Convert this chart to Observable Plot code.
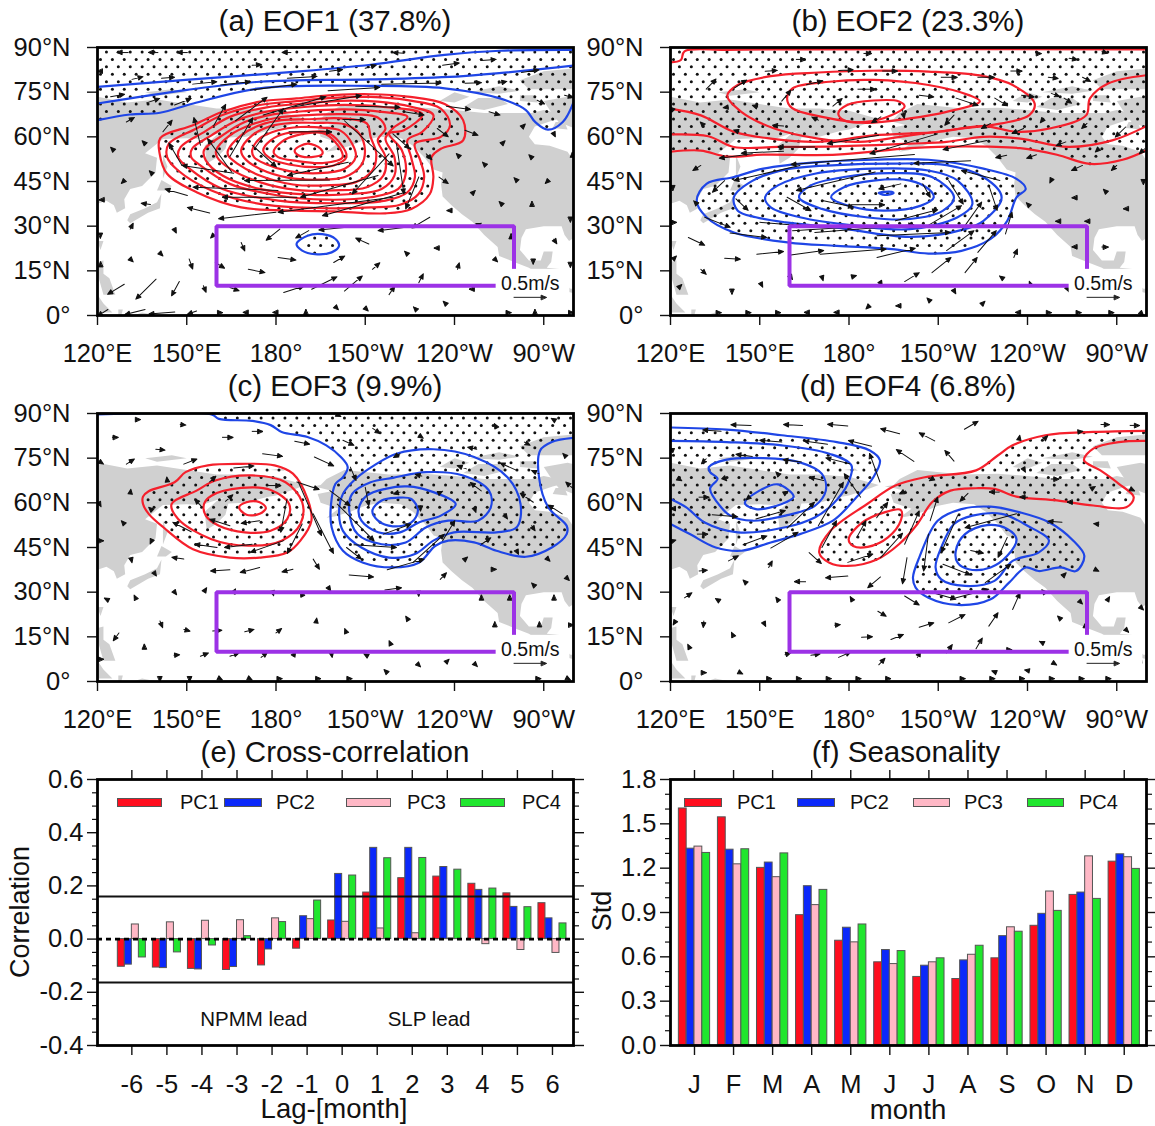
<!DOCTYPE html>
<html><head><meta charset="utf-8">
<script src="https://cdn.jsdelivr.net/npm/d3@7"></script>
<script src="https://cdn.jsdelivr.net/npm/@observablehq/plot@0.6"></script>
<style>
html,body{margin:0;padding:0;background:#fff}
#page{position:relative;width:1155px;height:1126px;overflow:hidden;font-family:"Liberation Sans",Arial,sans-serif;color:#111}
.panel{position:absolute;width:596px}
.panel svg{overflow:visible;background:transparent}
.t{position:absolute;white-space:nowrap;transform:translate(-50%,-50%);line-height:1.1}
.sw{position:absolute;height:7px;border:1px solid #555}
</style></head><body><div id="page"></div>
<script>
// ---------- shared tick labels ----------
const lonTicks=[120,150,180,210,240,270];
const lonLabels=["120°E","150°E","180°","150°W","120°W","90°W"];
const latTicks=[0,15,30,45,60,75,90];
const latLabels=["0°","15°N","30°N","45°N","60°N","75°N","90°N"];
const titles=["(a) EOF1 (37.8%)","(b) EOF2 (23.3%)","(c) EOF3 (9.9%)","(d) EOF4 (6.8%)","(e) Cross-correlation","(f) Seasonality"];

// ---------- land outlines (lon east, lat) ----------
const landAsia=[[120,73.5],[130,71.5],[140,72.5],[150,71],[160,69.5],[170,69.5],[180,68.8],[190,66],[186,64.5],[180,62.5],[177,62],[170,60],[164,59.8],[163,56],[160,53],[156.7,51],[156,57],[160,60.5],[163,62],[155,59.3],[150,59.5],[142,59.3],[136,54.5],[140,53],[139.5,48],[135,43.5],[131,42.5],[129,39],[129.3,36],[126.5,34.5],[125.5,37],[123,38.5],[120,37.5]];
const landAmerica=[[192,65.5],[195,66],[197,68],[203,71],[218,69.5],[230,69.8],[240,69],[250,68],[262,68],[266,68],[270,69],[275,68],[278,69.5],[279,67],[273,65.5],[267,63.5],[265,60],[267,57.5],[272,57],[278,55],[280,52],[280,26],[278.5,25],[277,27],[276,30],[270,30],[264,29],[262.5,26],[262,22],[265,18.5],[269,18.5],[270,21.5],[273,21.5],[272.5,18],[271,16],[276,15.5],[276.5,11],[279,9],[280,9],[280,7.5],[278,8],[275,10],[272,12],[268,14],[265,16],[260,18],[255,20],[254.5,23],[250,27],[246,31.5],[242.5,34],[239,37],[236,40],[235.5,44],[236,48],[233,49],[230,53],[226,57],[222,59.5],[215,60],[210,59],[205,57],[200,55.5],[197,55],[201,58],[198,59],[195,60],[194,63],[199,64],[195,65]];
const landIslands=[
 [[130,32],[131,34],[136,36],[140,38],[141.5,41],[141,36],[137,34.5],[131,31]],
 [[140,42],[141.5,45.5],[145,43.5],[143,42]],
 [[142,46],[142,54],[143.5,50]],
 [[120,18],[122,18.5],[122,14],[124,12.5],[126,7],[122,7],[120,14]],
 [[120,25],[122,25],[121,22]],
 [[120,7],[120,1],[125,1],[122,4]],
 [[127,2],[128.5,2],[128,0],[127,0]],
 [[132,0],[135,1],[140,0]],
 [[235,72],[240,71.5],[245,73.5],[240,75]],
 [[243,70],[250,69],[258,71],[255,73],[248,73]],
 [[245,75],[255,74.5],[262,75.5],[255,77]],
 [[262,72],[268,71.5],[267,74],[262,74]],
 [[278,73.5],[280,73],[280,63],[275,65],[272,69],[270,72]],
 [[265,76],[280,76],[280,83],[270,82],[262,79]],
 [[273,63],[278,62.5],[277,65],[274,65]],
 [[178,71],[182,71.5],[183,70.8]],
 [[136,75],[145,76],[150,75],[140,73.8]]
];

// ---------- target box of the NPMM region ----------
const boxLine=[[260,15.5],[260,30],[160,30],[160,10],[254,10]];
const keyArrow=[[260,6.1,10.8,0]];
const keyMask=[[254,280,3.2,15.5]];

// ---------- (a) contours ----------
const aRed=[
 [[141.1,59.6],[152.1,63.9],[162,68.4],[174.5,71.8],[186.9,72.9],[199.4,74],[211.8,74.3],[224.2,73.5],[236.7,71],[242.9,65.6],[242.9,58.8],[235.4,56],[232.3,53.2],[232.9,46.5],[231.7,40.8],[225.5,35.8],[216.8,34.3],[199.4,35],[186.9,35.2],[168.3,36.3],[153.3,41.4],[143.4,47.6],[140.9,54.3]],
 [[144,57.7],[153.3,62.8],[162,67.3],[174.5,70.7],[186.9,72],[199.4,73.1],[211.8,73.4],[224.2,72.3],[235.4,69.5],[238.5,63.9],[235.4,60],[226.7,57.7],[228.5,52.1],[229.8,46.5],[227.9,40.8],[221.7,37.2],[211.8,36.3],[193.1,36.1],[174.5,37.5],[158.3,42],[147.1,48.7],[143.4,53.2]],
 [[148,56.6],[155.8,61.6],[164.5,66.7],[176.9,69.9],[189.4,71.2],[201.8,72.1],[214.2,71.8],[225.4,70.1],[232.9,67.3],[229.2,61.7],[224.2,58.9],[225.4,53.2],[226.7,46.5],[224.2,41.4],[216.8,38.6],[199.4,37.7],[180.7,38.6],[162,42.5],[150.9,49.3],[147.1,53.2]],
 [[151.8,56],[158.3,60.5],[167,65.6],[178.2,68.7],[190.6,70.1],[203.1,70.7],[215.5,70.1],[229.2,67.6],[223,62.2],[218,61.1],[222.3,55.5],[223.6,47.6],[221.1,42.5],[211.8,39.7],[196.8,38.9],[180.7,40.3],[164.5,44.2],[154.6,50.4],[151.5,53.2]],
 [[155.8,55.5],[162,60.5],[169.5,65],[179.4,67.6],[190.6,68.7],[203.1,69.2],[215.5,68.4],[224.2,66.7],[219.2,62.8],[216.8,59.4],[219.8,53.2],[219.8,47],[215.5,42.5],[205.6,40.8],[190.6,40.6],[174.5,42.5],[162,47],[156.4,52.1]],
 [[159.9,55.5],[164.5,60.5],[172,64.2],[180.7,66.5],[190.6,67.3],[203.1,67.6],[214.2,66.5],[216.8,62.8],[214.2,58.9],[216.8,53.2],[216.1,47],[210.5,43.1],[199.4,42],[186.9,42.2],[174.5,44.8],[164.5,49.3],[160.2,53.2]],
 [[163.9,55.5],[168.3,60.5],[174.5,63.9],[181.9,65.6],[190.6,65.9],[201.8,66.2],[210.5,64.5],[211.8,60],[213.7,54.3],[212.4,48.7],[206.8,44.8],[196.8,43.7],[185.7,44],[174.5,47],[167,51],[163.9,53.8]],
 [[168.3,55.5],[172,60.5],[178.2,63.6],[185.7,64.7],[193.1,64.7],[203.1,64.2],[208,61.1],[209.9,55.5],[208.6,50.4],[203.1,46.5],[194.4,45.6],[184.4,46.2],[174.5,49.3],[169.5,52.7]],
 [[172,55.5],[174.5,59.4],[180.7,62.2],[188.1,63.3],[195.6,63.1],[201.8,62],[205.6,57.7],[206.8,53.2],[203.1,49.3],[194.4,47.8],[184.4,48.5],[176.3,51],[172.6,53.2]],
 [[175.7,55.5],[178.2,58.8],[183.2,61.1],[190.6,61.6],[196.8,61.6],[201.2,58.3],[203.7,53.2],[199.4,50.4],[193.1,49.8],[184.4,50.7],[178.2,52.7]],
 [[179.2,54.9],[181.9,58.3],[186.9,60.5],[196.8,60.9],[202.4,53.2],[195.6,51.2],[186.9,51.9],[180.7,53.2]],
 [[186.3,55.5],[190.6,57.7],[195,56],[195.6,54.3],[191.9,53.2],[187.5,53.8]]
];
const aBlueOpen=[
 [[120,76.8],[149.6,79.1],[186.9,81.9],[211.8,84.2],[236.7,87.5],[255.3,88.9],[280,89.2]],
 [[120,71.2],[149.6,75.7],[174.5,78.5],[211.8,79.3],[242.9,80.4],[280,83.9]],
 [[120,65.6],[130.9,67.5],[141,68.1],[152.2,71.2],[174.5,76.3],[211.8,77.1],[236.7,76.3],[255.3,72.9],[264,69],[267.1,65],[271.4,62.4],[276.4,65],[280,71.6]]
];
const aBlueClosed=[[[186.9,24],[190.6,26.8],[195.6,27.3],[200,25.7],[201.2,23.4],[198.7,21.2],[193.1,20.6],[188.8,21.8]]];
const aStipple=[[...aBlueOpen[2],[280,90],[120,90]],aRed[0],aBlueClosed[0]];
// [lon, lat, dLon, dLat]
const aVectors=[[130.3,88.3,-3.7,0],[140.3,88.3,-3.1,0],[150.2,88.3,-3.4,0],[185,88.3,-2.9,0],[223,88.1,-3.7,.2],[249,85.6,5,.4],[236,84,5.6,.8],[210,83,3.7,1.1],[172,84,3.1,.3],[198,82,4.4,.6],[262.5,81.6,5.9,.9],[131.6,79.3,3.7,.9],[141.5,79.7,4.4,.3],[183.8,79.7,10,.6],[152,77.7,8.1,.8],[161.4,77.4,10,1.1],[243.5,78,5.6,.2],[215.5,77.7,20,.4],[254.7,78,2.9,.6],[124.4,73.5,4.7,.8],[136.5,71.4,4.4,1.5],[145.9,70.7,5.6,2.2],[171.4,75.7,15.6,2],[197.5,75.5,17.4,1.1],[277,74,2.9,-.8],[267.8,72.3,2.5,-1.3],[129.7,65,2.7,1.5],[142,61.7,3.1,3.9],[159,63.6,4.1,7.3],[154.6,57.2,-2.2,9.3],[164.5,53.4,7.7,13],[173.2,56.6,9.3,12.9],[166.4,65.4,10.6,7.9],[175.7,67.3,21.1,6.2],[185.7,70,23,3.9],[202.5,65.8,7.5,0],[223,68.4,6.8,-1.1],[206.8,70.3,14.9,-.4],[237.3,70.3,8.1,-1.1],[251.6,68.4,3.7,-1.1],[243.5,62.2,4.4,-1.7],[234.2,62.8,3.7,-2.8],[184.4,61.7,14.3,0],[203,65.4,16.4,-15.2],[219.3,61,5.6,-5],[220.5,57.7,2.5,-16.9],[218,54.3,-12.4,-13.5],[228,46.5,-4.4,-10.7],[230.5,54.3,1.9,-2],[172,57.2,8.1,-7.3],[165.1,48.2,-8.1,11.2],[148.4,50.4,-4.4,7.5],[198,45.5,-28.6,-.2],[204.3,51.5,-20.5,-4.5],[214.3,47,-26.1,-7.3],[219.3,39.7,-38.6,-5],[165.8,47.8,-17.4,2.6],[180.7,42,-28.6,1.1],[187,39.7,-25,0],[223.6,41.4,-28,-7.9],[180,34.7,-19.3,-2.2],[157.7,34.4,-7.5,1.9],[150.2,40.3,-7.5,2.2],[137.8,37.3,-3.1,.4],[234.8,46.5,3.1,-2.2],[231.7,33,-6,-3.6],[223.6,29.6,-9.3,-1.1],[203.7,29.6,-9.3,-.9],[191,28.5,-4.4,-2.5],[181.3,29,-4.6,-3.7],[168.3,24.5,1.2,-2.8],[211.2,24,-4.4,2],[180.7,19.5,6,-.9],[170.7,15.5,5.6,-1.1],[192,8.8,8.5,4.2],[203,8.2,6,5.1],[182.6,7.7,6.8,2.2],[199.4,17.8,3.7,2.2],[212.4,15.5,2.5,2.2],[228,11,1.5,3],[241,15.5,.6,2.2],[218,7,1.9,2.8],[150.8,19,1.2,-3.4],[159.6,17.8,3.1,-1.9],[129,10.5,-5.6,-3.4],[139.7,12.2,-6.8,-6.7],[147.5,11.4,-2.6,-4.8],[155.6,10,.9,-2.2],[164.5,9.4,3.1,-1.1],[123.5,2,-3.5,-2.2],[136,2,-6.8,-1.7],[146,1.2,-8.7,-.7],[153.3,1.5,-3.1,-1.1],
[125.4,55.5,-1,1],[136,57.7,-1,1],[138.4,47.6,-1,1],[129,45.3,-1,-1],[121.6,38.8,-1,0],[131,29,1,2],[146,28.7,.5,-1],[121,27,0,-1],[159,27,-1,-1],[141,21,1,-1],[131,19,1,-1],[121,17,0,1],[256,57.7,1,1],[266,53,-1,1],[262.8,63.3,1,1],[273.4,61,.5,-1],[250.4,50.5,-1,1],[241.6,53.4,-1,1],[261,45.3,-1,1],[271.5,45.3,-1,-1],[246,41,1,1],[256,37.3,-1,1],[266,37.3,0,1],[238.5,35.2,-1,0],[248,30.5,1,.5],[259,26.4,0,1],[279,32.4,0,-1],[279.6,53.8,0,1],[224.2,20.6,-1,1],[234.2,22.6,-1,0],[253.5,19,1,-1],[266.5,18.3,0,-1],[273.4,25.6,1,-1.5],[279,17.2,0,-1],[246,8.8,-1,0],[200.5,2.4,.5,-.5],[210.5,2,.5,-.5],[226.7,2.4,-.5,.5],[236.7,4.3,-.5,.5],[161,1,1,0],[170,1,-1,0],[180,1,-1,0],[190,1,0,1],[258,1,1,0],[267,1,0,1],[279,1,1,0],[121,82,-1,0]];

// ---------- (b) contours ----------
const bRedOpen=[
 [[120,85],[123.5,85.8],[124.7,88.7],[138.9,89.2],[163.6,89.4],[280,89.4]],
 [[120,69.5],[130.2,67.2],[141.3,61.7],[153.7,59.4],[169.7,58.3],[188.2,60.5],[210.4,61.7],[225.2,63.6],[236.3,61.7],[247.4,62.8],[259.7,67.2],[261,72.9],[267.1,77.9],[280,80.7]],
 [[120,60.8],[132.7,60.2],[141.3,56.6],[156.1,56.6],[175.9,56.8],[200.5,57.7],[212.8,58.3],[225.2,60],[237.5,59.4],[253.7,56.6],[268.5,58.8],[280,63.6]],
 [[120,55],[130.2,55.4],[138.9,53.4],[151.2,54],[175.9,54],[200.5,56.2],[219,56.8],[237.5,56.2],[249.9,54],[261,50.9],[272,52.3],[280,55.5]]
];
const bRedClosed=[
 [[139.1,73.8],[142.6,77.4],[153.7,80.4],[169.7,81.6],[188.2,82.2],[206.7,81.9],[225.2,80.4],[235,77.4],[242.4,71.2],[240.6,67.3],[231.3,64.5],[217.8,62.8],[200.5,60.5],[183.3,58.3],[169.7,59.4],[154.9,62.8],[143.8,68.4]],
 [[159.2,72.9],[161,76.3],[173.4,78.5],[188.2,79.1],[206.7,77.4],[220.3,74],[224,71.9],[212.8,68.4],[200.5,66.2],[185.7,64.7],[171,66.7],[160.8,69.7]],
 [[176.4,67.9],[179.4,70.7],[188.2,72.2],[196.8,71.9],[198.7,70.2],[194.4,67.3],[185.7,65],[178.3,65.6]]
];
const bBlue=[
 [[128.8,38.6],[132.1,44.2],[141.3,46.5],[151.2,49.3],[169.7,51.5],[188.2,52.3],[206.7,52.3],[225.2,49.3],[236.3,45.9],[239.4,42.5],[236.3,39.7],[233.2,31.8],[227.6,25.7],[217.8,21.7],[206.7,20.8],[194.4,22.3],[175.9,23.4],[159.8,24.5],[141.3,27.9],[132.1,33]],
 [[141.3,39.7],[147.5,45.2],[158.6,49],[175.9,50.5],[194.4,51],[212.8,50.5],[225.2,46.5],[231.3,39.7],[225.2,31.8],[219,29],[200.5,26.4],[175.9,29.5],[158.6,31.3],[148.7,33],[142.6,35.2]],
 [[151.8,39.7],[156.1,43.7],[168.5,47.6],[188.2,49.3],[206.7,48.7],[216.5,45.3],[221.5,37.5],[216.5,33],[200.5,29],[182,30.2],[163.5,33],[153.7,36.3]],
 [[163.2,39.7],[167.2,43.7],[178.3,46.5],[194.4,47.8],[207.9,46.5],[215.3,39.7],[211.6,35.2],[200.5,32.4],[185.7,33],[170.9,35.8]],
 [[174,39.7],[178.3,43.1],[188.2,45.3],[200.5,45.3],[206.7,42.5],[208.5,39.7],[204.2,36.9],[191.9,35.2],[180.8,36.6]],
 [[190,41.2],[194.4,41.5],[195,41.1],[191.9,40.5]]
];
const bStipple=[[...bRedOpen[3],[280,90],[120,90]],bBlue[0]];
const bVectors=[[162.3,86,3.1,0],[185,88,2.5,0],[243,88,1.6,0],[265,88.6,1.9,-.5],[254,86.4,2.8,-.5],[151.8,82,4.1,.3],[176.5,82.3,4.9,.2],[191.3,82.1,4.9,0],[234.4,82.1,3.7,0],[211,80,5.3,0],[223.3,80,5.5,0],[247,80,3.3,-.4],[258.5,80,2.7,-1.4],[132,76,3.3,3.4],[141.3,76.3,4.3,2.8],[165.7,77.5,5.4,1.3],[157.4,72,3.1,3.7],[183,76,5.9,0],[203.6,74,4.9,-.6],[238,74,4.3,-.6],[248,74.6,2.8,-1.1],[252.3,73,2.5,-1.7],[216,73,7.4,-2.5],[229,73,4.3,-2.6],[174.6,70.3,3.1,2.6],[198,69,.6,-2.8],[190.7,66.7,-3.1,-2],[169.7,65.6,-2.2,1.1],[149.3,70,-1.8,.6],[139.5,70,-1.8,-.2],[131,64,-1,1],[158,63.6,-3.7,.3],[143,61.7,-1.8,.6],[215.3,67.3,-3.1,-3.4],[227.6,64.5,-3.1,-1.7],[238.7,62.8,-3.9,-1.7],[260,64.5,-1.8,-1.7],[273,63.3,-3.5,-3.4],[245.5,66.2,-1.2,-1.5],[190,60.5,-17.3,-2.8],[209.8,61,-22.8,-6.7],[226.4,58.8,-14.8,-3.1],[252.9,58.3,-3.3,-1.3],[264,56,-1.2,-1.1],[279.4,56,-1.8,-1.7],[168.5,56.6,-12.3,0],[158,55.2,-14.2,-.7],[147.5,54.3,-11.1,-1.5],[202,54.1,-41.5,-3.4],[233,53.8,-3.7,-.8],[243,54,-3.3,-1.2],[258.5,50.4,-3.7,-1.7],[270,50.4,-1.8,-1.7],[130.2,50.4,-2.7,-1.7],[220.9,52,-19.1,-.9],[230.7,45.3,-12.9,3.4],[188.8,48.2,-26.5,-6.2],[163.5,50.4,-22.2,-5.1],[138.2,45.3,-4.1,-3.9],[197.4,44.2,-7.4,-1.7],[142,39.2,4.1,-3.9],[159.2,39.7,8,-4.5],[171,38.6,10.5,-2.2],[180.8,37.2,11.1,0],[204.8,44.2,2.5,-4.5],[213.5,45.3,4.9,-7.9],[227,43.7,2.8,-8.4],[232.6,27.4,2.2,7.3],[217.8,28.5,6.8,9.6],[205.5,29.6,12.3,7.3],[195.6,31.8,14.2,3.7],[150,31.3,14.2,-1.2],[131.5,33,8.6,-3.4],[140,27.7,12.3,-1.5],[161,28.5,20.3,1.2],[168.5,27.9,33.3,2.6],[189.4,26.8,24.7,1.1],[212.8,21.8,9.2,6.7],[223.3,21.2,6.2,7.3],[189.4,19.5,12.9,3.1],[160.4,20.3,11.1,1.5],[170.3,20.6,22.2,1.7],[149,20.6,9,.9],[126,26.2,5.5,-2.6],[138.2,19.2,5.3,-.3],[130.2,15.5,1.8,-1.7],[207.9,14.4,6.4,5.1],[219,14.4,4.1,5.1],[198.7,11.4,4.9,3],[235.4,19.5,1.2,2.8],[265,23,2.1,0],
[160.6,12.7,.4,-.6],[171,12.7,.3,-1],[181,13,1.5,.4],[190.6,11,.6,-1],[215.5,8,.4,-.7],[231.4,12.7,-.8,.6],[241,10.5,-.4,1],[253.5,8.8,.4,-.8],[250.5,31.6,-1,0],[260.3,31.6,-1,0],[240.6,36.9,-1,1],[273.3,35.8,-1,0],[256,23,-1,0],[266.5,41.4,-1,1],[279,45,0,-1],[248,45.5,-.5,-1],[256,39.5,-1,0],[150.5,10.5,.5,-1],[140.7,8.2,0,-1],[122.8,9.4,1,1],[121,19,1,1],[121,31.3,1,0],[128.8,37.5,-1,1],[120.8,43,0,-1],[120.8,69,-1,1],[136,1,1,0],[146,1,1,0],[156,1,1,0],[166,1,-1,0],[176,1,-1,0],[237,1,-1,0],[247,1,1,0],[257,1,1,0],[268,1,1,0],[278,1,1,-1],[186.7,3.2,-1,-1],[196.8,3.2,-1,0],[206.7,5.4,-.5,.5],[225.2,4.3,.5,.5]];

// ---------- (c) contours ----------
const cBlueOpen=[[[120,89.7],[158.3,89.7],[160.8,88.2],[172,87.5],[178.2,86.1],[181.9,83.8],[190.6,82.1],[196.9,79.3],[201.8,75.4],[204.1,72],[202.5,68.6],[200,66.4],[198.5,59.6],[198.7,51.8],[202.5,43.9],[209.3,39.9],[219.3,38.3],[228,39.9],[233.6,45.6],[237.9,47.3],[246.6,46.7],[254.1,43.9],[264,41.9],[272.7,45],[277.7,49.5],[277.7,52.3],[271.5,58.5],[268.4,68.6],[268.8,77.6],[272.7,80.4],[280,81.8]]];
const cBlueClosed=[
 [[212.4,57.4],[215.5,60.8],[220.5,61.7],[225.5,61.3],[227.7,57.4],[225.5,53.4],[219.3,52.1],[214.3,54]],
 [[207.8,57.9],[210.5,62.4],[216.8,64.7],[224.2,65.5],[232.9,63.6],[240.4,59.6],[235.4,55.7],[228,53.4],[221.7,50.1],[214.3,50.1],[208.7,54]],
 [[204.6,57.4],[205.6,63],[211.8,66.9],[219.3,68.4],[230.5,70.3],[242.9,69.2],[251.6,64.1],[252.2,58.5],[247.9,54],[237.9,54],[230.5,51.8],[223.6,46.7],[215.5,46.1],[207.4,49.5]],
 [[201.2,56.3],[202.5,63],[206.8,68.1],[213,72.6],[220.5,76.5],[232.9,78],[246.6,75.4],[257.8,68.6],[262.2,59.6],[260.9,51.8],[254.1,50.1],[239.8,50.1],[232.9,47.3],[226.7,42.8],[218,41.6],[208.7,45],[202.5,50.6]]
];
const cRed=[
 [[135.3,62.1],[137.2,63.9],[145.9,66.9],[149.6,70.3],[157.1,72.6],[168.3,73.1],[179.5,72.6],[185.7,69.8],[190.6,61.3],[191.9,54],[188.2,47.3],[183.8,43.3],[174.5,41.6],[164.5,41.6],[152.1,44.4],[142.1,51.8],[137.2,56.3],[135.3,59.6]],
 [[144.9,59.6],[153.3,64.1],[159.6,67.5],[172,69.2],[183.2,66.9],[188.8,60.2],[188.2,52.9],[181.9,47.3],[170.7,45.6],[158.3,47.8],[147.1,54.6]],
 [[155.8,59.6],[158.3,62.4],[168.3,65],[178.2,64.3],[184.4,59.6],[183.8,54.6],[178.2,50.6],[169.5,50.1],[160.8,52.3],[156.4,55.7]],
 [[167.6,58.5],[170.1,60.2],[174.5,60.2],[176.6,58.3],[174.5,56.3],[170.1,56]]
];
const cStipple=[[...cBlueOpen[0].slice(1),[280,90],[158,90]],cRed[0]];
const cVectors=[[132.8,88,1.6,0],[147.8,86.3,1.9,-.2],[125,82,1.9,0],[162,82,3.5,0],[172,84,3.5,0],[186.3,80.7,5,-1],[139.6,78,3.1,-.3],[175.5,76.5,6.7,-.9],[129.7,73,2.7,1.7],[149,73,4.4,1.7],[192.9,75.4,6.5,-3],[120.5,74,1.5,-1],[165.8,71.7,6.8,.7],[200.8,89.5,1,-.5],[212.5,85,2.5,-1.7],[228,82.7,1.5,-1],[254,85.5,-.6,1.1],[273.5,87.8,-1,.6],[202.5,81,3.7,-1.7],[263.5,80.4,1.9,-1.1],[247.5,78,-3.1,.7],[277,76,-.6,.6],[221.7,76.5,-2.2,-1.3],[260.9,70.9,-5.6,2.5],[244,71.4,-3.1,1.1],[229,69,-2.2,.6],[205,72,1.9,-4.5],[249,64,-3.7,2.8],[268.4,69.8,-2.5,1.1],[279.6,65,-2.2,2],[266.5,60.2,-4.4,3],[276.2,56.3,-4.7,3],[187,67,7.5,-2.5],[177,65.8,4.6,0],[157.7,67,2.1,1.9],[143.5,67,-.2,1.7],[131,63,.2,1.6],[120.7,59.6,.5,-.9],[138.4,57.4,-1.2,1.1],[163,60.5,2.5,2.2],[155.2,58.5,-2.5,2.8],[210,65.2,1.2,-6.2],[198.1,64.1,6.8,-5.1],[200.6,59.6,12.4,-12.4],[221.7,63.6,-2.2,-.6],[235.4,63.6,.6,.3],[228.6,59,0,-1.7],[246.6,58.5,.6,-1.7],[256.6,56.3,1.2,-1.7],[265.9,52.3,1.2,-1.7],[129,52.9,-1,1.1],[151.5,50.3,-6.2,3.2],[164.5,52.3,-6.8,2.2],[174.5,54,-6.2,-.9],[183.7,61.3,-2.1,-11.2],[187.5,67,7.8,-18],[192.5,56.3,6.8,-13.3],[188.8,52.9,-5,-9.9],[182.6,47.3,-11.2,-3.9],[172,46.1,-9.3,-1.1],[160.2,45,-7.5,1.1],[121,47.3,1,0],[138.2,47.3,-.5,-1.1],[149,41.1,-4,.6],[164.5,37.5,-6.5,-.4],[174.5,38.3,-6.5,-1.7],[185.7,37.7,-3.7,-.9],[192.5,41.1,2.1,-3.4],[131.2,41.6,.4,-1.7],[206.2,45.9,14.3,-.9],[203.7,45,5,-3.9],[216.1,49.5,9.3,3.4],[217.4,37.5,12.4,3.6],[226,39.9,10.6,9.6],[236,47.3,4.1,6.7],[249.1,46.1,3.1,2.2],[261,43.7,.5,-1],[243.5,41,.9,.8],[271.5,41,.6,-.6],[235.2,34.3,2.1,2.2],[253,37.7,1,0],[204.6,35.8,8.2,-.7],[216.6,30.7,5.6,.8],[139.4,36,.4,-.6],[266.5,32.5,-.6,.6],[278,34.5,.6,-.6],[146,29.9,.6,-.8],[156,30.4,.7,1.1],[165.8,30,.6,1.1],[179,29.5,.2,-.7],[188.8,29,-.6,1.1],[198,31,.4,-.6],[228,30,0,-1.3],[249,28,0,1],[258.5,28,0,1],[273.4,28,0,1],[132.8,28,-.5,1],[123.3,27.5,-1,.5],[141,20.3,.9,-2.2],[149,17.5,2.1,-.6],[158.7,17,3.1,.2],[169.5,16.7,3.1,.8],[180,16.3,1.9,1.5],[203.7,16.3,-.6,1.5],[193.5,20,.2,1.3],[224.2,21,-.6,.9],[253.5,19,0,1],[268.5,19,0,1],[279,19,1,0],[127.2,16.3,-1.9,-2.6],[218.6,12.4,-.6,1.3],[135.7,11.5,0,1],[145.7,8.8,1.9,.2],[154.6,8.5,2.7,1.1],[164.5,8.5,3.1,1.1],[175,8.1,2.1,1.7],[185.7,8.5,.9,1.5],[198.7,9.2,.2,-1.1],[211,8.5,-1.5,.8],[228,5.5,.6,-.6],[237.7,7,.5,.5],[247.2,5.5,.5,-.5],[216.8,3.5,-.5,.5],[141,1,0,-1],[151,1,0,-1],[161,1,1,-.5],[171,1,1,-.5],[181,1,1,0],[194,1,1,0],[204.5,1,1,0],[268,1,1,0],[278,1,1,-.5],[121,7.5,1,0]];

// ---------- (d) contours ----------
const dBlueOpen=[
 [[120,85.3],[138.9,84.6],[157.4,82.7],[175.9,80.4],[187,77.6],[190.4,74.3],[188.2,68.6],[182,61.3],[174.6,54],[163.5,49.5],[153.7,46.7],[143.8,43.9],[135.2,45],[126.5,49.5],[120,52.9]],
 [[120,80.8],[138.9,80.4],[157.4,79.3],[173.4,76.5],[180.8,72.6],[179.6,66.4],[174.6,59.6],[168.5,55.1],[158.6,51.8],[142.6,50.1],[131.5,53.4],[125.3,58.5],[120,61.3]]
];
const dBlueClosed=[
 [[132.9,72],[138.9,74.5],[151.2,75],[163.5,73.6],[170.9,69.7],[172.2,64.1],[168.5,59],[158.6,55.7],[147.5,54],[140.1,55.7],[137,58.5],[133.3,64.7],[135.8,68.1],[133.3,70.3]],
 [[145,59.9],[149.9,64.1],[156.1,66.2],[161.4,62.1],[157.4,59.6],[148.7,57.9]],
 [[201.5,34.9],[203.6,41.6],[209.8,54],[217.8,57.9],[227.6,58.7],[237.5,56.8],[247.4,53.4],[255.4,47.3],[259.1,42.2],[256.3,37.1],[251.1,38.3],[243.7,37.1],[239.4,38.3],[233.8,33.2],[227.6,27.6],[216.5,25.7],[206.7,28.1],[202.4,31.5]],
 [[209.1,38.3],[211,45],[215.3,52.9],[221.5,55.7],[231.3,56.3],[240,52.3],[247.2,47.3],[243.7,43.3],[235,40.5],[228.9,33.8],[219,32.1],[211,34.3]],
 [[215.9,43.9],[219,49.5],[226.4,52.5],[233.2,51.2],[236.3,47.8],[233.2,42.2],[227.6,38.3],[220.2,37.7],[216.5,39.9]]
];
const dRedOpen=[[[280,84.2],[262.1,83.8],[246,82.7],[235,79.3],[230,75.9],[222.7,70.9],[205.5,68.6],[195.6,65.8],[186.1,59.6],[173.8,50.6],[170,43.3],[173.4,39.9],[179.6,38.8],[189.4,41],[196.8,46.1],[203,52.9],[207.9,60.2],[214.1,64.1],[222.7,64.9],[228.9,64.7],[236.3,62.1],[249.9,60.8],[262.1,59.1],[273.2,58.5],[275.7,61.9],[270.7,66.4],[264.5,70.9],[259,74.3],[262.1,78.2],[270.7,80.4],[280,80.8]]];
const dRedClosed=[[[179.9,47.8],[184.5,53.4],[191.9,56.8],[197.4,57.6],[197.4,54],[193.1,48.4],[186.3,45.2],[181.4,45.5]]];
const dStipple=[dBlueOpen[0],dBlueClosed[2],dRedOpen[0]];
const dVectors=[[147.1,86,-6.8,.2],[164.4,86,-6.4,.3],[179.6,85.8,-6.8,.6],[197,83.2,-6.4,1.7],[208.8,80.8,-5.2,2.7],[218.8,84.7,4.6,2.7],[237.2,81.6,.2,1.1],[245.2,81,1.6,1.5],[257,83.8,1.6,.2],[264.7,86.3,2.8,0],[274.5,86,3.1,0],[137,84,-6.2,.5],[157.4,80.4,-7.4,.6],[172.8,79.7,-8,1.1],[187.6,79,-7.8,1.9],[201.8,73.9,-5.9,4],[215.3,74,-3.1,3.6],[121,77.6,-1.5,.6],[132,74.8,-1.6,-1.7],[147.5,75.6,-5.5,.7],[164,73.7,-6.2,.8],[180.2,73.1,-8,2],[190.4,67,-3.5,9.6],[183.9,61.9,-5.5,7.9],[171.5,67.5,-4.9,1.1],[156,69.8,-.6,.6],[138.3,68,.6,-.6],[122.8,68,1,-.6],[238.7,71.4,.6,-1.1],[248,68,2.5,0],[262,65,.8,.5],[208,68,-1,-.6],[275,64.5,1,-.5],[199,64,-2,-1],[230.5,63.6,-3.3,0],[220,63.2,-2.7,-2.7],[240,61.9,-2.5,0],[255,60.2,-1.6,0],[129.6,61.9,3.3,0],[146,61.5,-.6,-.5],[121,58,-1,0],[158.5,63.3,1,.6],[134,56,8.6,-.7],[148.7,54.6,9.9,2.8],[159.2,51.5,9.2,8.7],[169.7,52.3,8.4,14.6],[182.6,48.4,3.1,5.6],[189.3,55,3.7,5.1],[198.7,46.1,4.9,11.2],[170.9,45,4.9,9],[190.6,41.6,7.4,8.2],[179.6,40,8.4,2.8],[207.3,54,2.5,7.9],[216.5,55.7,-5.5,-12.4],[206.7,49.5,-1.6,-12.4],[199.5,41.6,-1.5,-8.8],[236.3,56.3,-17.3,-4.7],[233.2,48.4,-3.1,-6.7],[251.6,53.5,-4.7,.3],[264,52.8,-1.8,.2],[220.9,44,4.3,-.9],[211.6,39.4,9.2,-3.6],[225.8,33.2,8.6,6.2],[214.1,27.6,12.9,3.4],[206,30.4,9.9,-2.8],[235,24.2,2.5,5.6],[227,18.6,3.1,4.5],[213.5,19.7,5.5,2.8],[203.6,18.2,4.9,1.5],[198.7,28.7,4.9,-3],[189.7,23.6,2.8,-1.7],[194.1,14.1,4.2,1.7],[184.2,14.9,3.7,.1],[175.2,18.9,1.9,.2],[166.6,43.3,4.1,-3.7],[179.6,35.4,-7.5,-.6],[190.6,35.1,-4.3,-3.6],[165.4,33.5,-3.7,0],[153,38.3,1.2,2.2],[139.5,40.5,3.3,1.7],[129.6,37.1,2.8,.3],[144.4,45.9,8,3],[153.7,44.8,9.2,5.3],[129,49.5,3.5,0],[120.8,47.2,1,.3],[145,33.5,-.6,.6],[124.7,28.1,2.5,1.7],[135.7,27.5,-.6,.4],[156,27.5,-.6,.8],[181,27.5,-.6,1],[131.2,20.3,-.2,-2.2],[121.5,20,-.6,-1],[246,29.5,-1.2,1.3],[257.5,27,1,-1],[267,27.5,.6,1],[278,25,1,-1],[251.1,21,-1,1],[259.5,18.5,1,-.5],[273,17.5,1,-1],[245,13,-1,.5],[263,37.5,1,-.5],[252,35.5,1,1],[141,15.5,-.5,1],[151.5,19.5,.5,-1],[126.3,11.5,-.5,1],[158.5,9,1.9,.6],[167.2,8.8,3.1,.5],[176.5,8.1,4.1,1.8],[203,8.1,1,2],[212.8,9.6,1.9,2.8],[222.7,11,2.1,3.6],[190,5.6,2.1,2.2],[233.2,10.7,1.5,0],[131,3,1,0],[143.3,3,1,-.5],[153,1,1,0],[163,1,1,0],[173,1,1,0],[183,1,1,0],[193,1,1,0],[218,1,1,0],[228,1,1,0],[238,1,1,0],[248,1,1,0],[258,1,1,0],[267,1,1,0],[229,3.2,-1,.4],[240,3.7,-1,.2],[249,6,.8,-.5],[278,7,.5,-.8]];

// ---------- (e) and (f) bars ----------
const lags=[-6,-5,-4,-3,-2,-1,0,1,2,3,4,5,6];
const ePC1=[-.104,-.107,-.112,-.116,-.099,-.036,.07,.175,.229,.235,.208,.172,.135];
const ePC2=[-.096,-.109,-.114,-.105,-.039,.086,.245,.343,.343,.271,.185,.121,.078];
const ePC3=[.055,.063,.069,.071,.078,.075,.065,.04,.022,.002,-.019,-.041,-.052];
const ePC4=[-.069,-.05,-.024,.011,.064,.145,.239,.304,.305,.261,.19,.12,.059];
const months=["J","F","M","A","M","J","J","A","S","O","N","D"];
const fPC1=[1.604,1.544,1.202,.882,.709,.563,.464,.45,.59,.81,1.019,1.244];
const fPC2=[1.332,1.325,1.238,1.078,.797,.646,.54,.576,.74,.891,1.035,1.294];
const fPC3=[1.346,1.226,1.139,.95,.698,.551,.563,.614,.8,1.042,1.28,1.274];
const fPC4=[1.303,1.328,1.3,1.053,.819,.639,.59,.675,.77,.911,.992,1.195];
const pcColors=["#ff0d1e","#0b28fa","#ffb8c6","#20e62e"];
const pcNames=["PC1","PC2","PC3","PC4"];
const sigLevels=[.16,-.163];
const eTicks=[-.4,-.2,0,.2,.4,.6];
const eMinor=[-.35,-.3,-.25,-.15,-.1,-.05,.05,.1,.15,.25,.3,.35,.45,.5,.55];
const fTicks=[0,.3,.6,.9,1.2,1.5,1.8];
const fMinor=[.1,.2,.4,.5,.7,.8,1,1.1,1.3,1.4,1.6,1.7];

// ---------- helpers ----------
const page=document.getElementById("page");
const FONT='"Liberation Sans",Arial,sans-serif';
const RED="#f5202c",BLUE="#1f46e6",PURPLE="#9c32e6",LAND="#d0d0d0";
const MT=12,ML=90,W=476,MR=30,MB=70;
const lx=d=>d[0],ly=d=>d[1];
const pxPerDeg=W/160;
const arrowShape={draw(c,l){const h=5,w=2.2;c.moveTo(0,0);c.lineTo(0,-l);c.moveTo(0,-l);c.lineTo(-w,-l+h);c.lineTo(w,-l+h);c.closePath();}};
function place(svg,left,top){const d=document.createElement("div");d.className="panel";d.style.left=(left-ML)+"px";d.style.top=(top-MT)+"px";d.append(svg);page.append(d);}
function text(s,x,y,size,rot){const d=document.createElement("div");d.className="t";d.textContent=s;d.style.left=x+"px";d.style.top=y+"px";d.style.fontSize=size+"px";if(rot)d.style.transform="translate(-50%,-50%) rotate(-90deg)";page.append(d);}
function stipplePoints(polys){
  const pts=[];
  let row=0;
  for(let lat=1;lat<90;lat+=2.5,row++){
    for(let lon=121+(row%2?2:0);lon<280;lon+=4){
      if(polys.some(p=>d3.polygonContains(p,[lon,lat])))pts.push([lon,lat]);
    }
  }
  return pts;
}
const plotStyle={fontFamily:FONT,color:"#111",background:"transparent",maxWidth:"none"};
function mapPanel(left,top,cfg){
  const lines=(arr,stroke,curve)=>arr.map(p=>Plot.line(p,{x:lx,y:ly,stroke,strokeWidth:2.2,curve,clip:"frame"}));
  const svg=Plot.plot({
    width:ML+W+MR,height:MT+268+MB,marginLeft:ML,marginRight:MR,marginTop:MT,marginBottom:MB,
    style:plotStyle,
    x:{domain:[120,280],axis:null},y:{domain:[0,90],axis:null},length:{type:"identity"},
    marks:[
      [landAsia,landAmerica,...landIslands].map(p=>Plot.line(p,{x:lx,y:ly,fill:LAND,stroke:null,curve:"linear-closed",clip:"frame"})),
      Plot.dot(stipplePoints(cfg.stipple),{x:lx,y:ly,r:1.5,fill:"#111",stroke:null}),
      lines(cfg.closed.red||[],RED,"catmull-rom-closed"),
      lines(cfg.closed.blue||[],BLUE,"catmull-rom-closed"),
      lines(cfg.open.red||[],RED,"catmull-rom"),
      lines(cfg.open.blue||[],BLUE,"catmull-rom"),
      Plot.vector(cfg.vectors,{x:d=>d[0],y:d=>d[1],length:d=>Math.hypot(d[2],d[3])*pxPerDeg,rotate:d=>Math.atan2(d[2],d[3])*180/Math.PI,anchor:"start",shape:arrowShape,stroke:"#111",fill:"#111",strokeWidth:1,clip:"frame"}),
      Plot.line(boxLine,{x:lx,y:ly,stroke:PURPLE,strokeWidth:4,strokeLinejoin:"miter"}),
      Plot.rect(keyMask,{x1:d=>d[0],x2:d=>d[1]-1.2,y1:d=>d[2],y2:d=>d[3],fill:"white",stroke:null}),
      Plot.text(["0.5m/s"],{x:[265.5],y:[10.7],fontSize:19.5,fill:"#111"}),
      Plot.vector(keyArrow,{x:d=>d[0],y:d=>d[1],length:d=>d[2]*pxPerDeg,rotate:90,anchor:"start",shape:arrowShape,stroke:"#222",fill:"#222",strokeWidth:1}),
      Plot.axisX({ticks:lonTicks,tickFormat:d=>lonLabels[lonTicks.indexOf(d)],tickSize:10,tickPadding:18,fontSize:25.5,label:null,strokeWidth:1.4}),
      Plot.axisY({ticks:latTicks,tickFormat:d=>latLabels[latTicks.indexOf(d)],tickSize:10,tickPadding:17,fontSize:25.5,label:null,strokeWidth:1.4}),
      Plot.frame({stroke:"black",strokeWidth:2.8})
    ]
  });
  place(svg,left,top);
}
function barRows(xs,series,posOf){
  const rows=[];
  series.forEach((vals,i)=>vals.forEach((v,j)=>rows.push({x1:posOf(j)-.4+.2*i,x2:posOf(j)-.4+.2*(i+1),v,pc:pcNames[i]})));
  return rows;
}
function barPanel(left,top,cfg){
  const blank=()=>"";
  const svg=Plot.plot({
    width:ML+W+MR,height:MT+266+MB,marginLeft:ML,marginRight:MR,marginTop:MT,marginBottom:MB,
    style:plotStyle,
    x:{domain:cfg.xDomain,axis:null},y:{domain:cfg.yDomain,axis:null},
    color:{domain:pcNames,range:pcColors},
    marks:[
      Plot.rect(cfg.rows,{x1:"x1",x2:"x2",y1:()=>0,y2:"v",fill:"pc",stroke:"#555",strokeWidth:1,inset:0}),
      ...(cfg.extra||[]),
      Plot.axisX({ticks:cfg.xTicks,tickFormat:cfg.xFormat,tickSize:10,tickPadding:19,fontSize:25.5,label:null,strokeWidth:1.4}),
      Plot.axisX({anchor:"top",ticks:cfg.xTicks,tickFormat:blank,tickSize:10,label:null,strokeWidth:1.4}),
      Plot.axisY({ticks:cfg.yTicks,tickFormat:cfg.yFormat,tickSize:10,tickPadding:4,fontSize:25.5,label:null,strokeWidth:1.4}),
      Plot.axisY({ticks:cfg.yMinor,tickFormat:blank,tickSize:5,label:null,strokeWidth:1.2}),
      Plot.axisY({anchor:"right",ticks:cfg.yTicks,tickFormat:blank,tickSize:10,label:null,strokeWidth:1.4}),
      Plot.axisY({anchor:"right",ticks:cfg.yMinor,tickFormat:blank,tickSize:5,label:null,strokeWidth:1.2}),
      Plot.frame({stroke:"black",strokeWidth:2.8})
    ]
  });
  place(svg,left,top);
}
function legend(items,y){
  items.forEach((it,i)=>{
    const s=document.createElement("div");s.className="sw";
    s.style.left=it[0]+"px";s.style.width=(it[1]-it[0]-2)+"px";s.style.top=(y-4.5)+"px";s.style.background=pcColors[i];page.append(s);
    const t=document.createElement("div");t.className="t";t.textContent=pcNames[i];t.style.transform="translate(0,-50%)";t.style.left=it[2]+"px";t.style.top=y+"px";t.style.fontSize="20px";page.append(t);
  });
}

// ---------- draw ----------
mapPanel(97,47,{stipple:aStipple,vectors:aVectors,closed:{red:aRed,blue:aBlueClosed},open:{blue:aBlueOpen}});
mapPanel(670,47,{stipple:bStipple,vectors:bVectors,closed:{red:bRedClosed,blue:bBlue},open:{red:bRedOpen}});
mapPanel(97,413,{stipple:cStipple,vectors:cVectors,closed:{red:cRed,blue:cBlueClosed},open:{blue:cBlueOpen}});
mapPanel(670,413,{stipple:dStipple,vectors:dVectors,closed:{red:dRedClosed,blue:dBlueClosed},open:{red:dRedOpen,blue:dBlueOpen}});

const hyphen=d=>d3.format(".1f")(d).replace("\u2212","-");
barPanel(97,779,{
  rows:barRows(lags,[ePC1,ePC2,ePC3,ePC4],j=>lags[j]),
  xDomain:[-6.98,6.6],yDomain:[-.4,.6],xTicks:lags,xFormat:d=>String(d),yTicks:eTicks,yFormat:hyphen,yMinor:eMinor,
  extra:[
    Plot.ruleY(sigLevels,{stroke:"#111",strokeWidth:2}),
    Plot.ruleY([0],{stroke:"#000",strokeWidth:2.6,strokeDasharray:"5,4"}),
    Plot.text(["NPMM lead","SLP lead"],{x:[-2.52,2.48],y:[-.302,-.302],fontSize:20.5,fill:"#111"})
  ]
});
const monthPos=months.map((_,i)=>i+1);
barPanel(670,779,{
  rows:barRows(months,[fPC1,fPC2,fPC3,fPC4],j=>monthPos[j]),
  xDomain:[.386,12.57],yDomain:[0,1.8],xTicks:monthPos,xFormat:d=>months[d-1],yTicks:fTicks,yFormat:d=>d.toFixed(1),yMinor:fMinor
});
legend([[117,162,180],[224,262,276],[346,391,407],[460,505,522]],802);
legend([[684,722,737],[797,835,850],[913,950,964],[1027,1064,1079]],802);

text(titles[0],335,21,29.5);text(titles[1],908,21,29.5);
text(titles[2],335,386,29.5);text(titles[3],908,386,29.5);
text(titles[4],335,752,29.5);text(titles[5],906,752,29.5);
text("Correlation",21,912,27,true);
text("Std",603,911,27,true);
text("Lag-[month]",334,1109,27.5);
text("month",908,1110,27.5);
</script></body></html>
